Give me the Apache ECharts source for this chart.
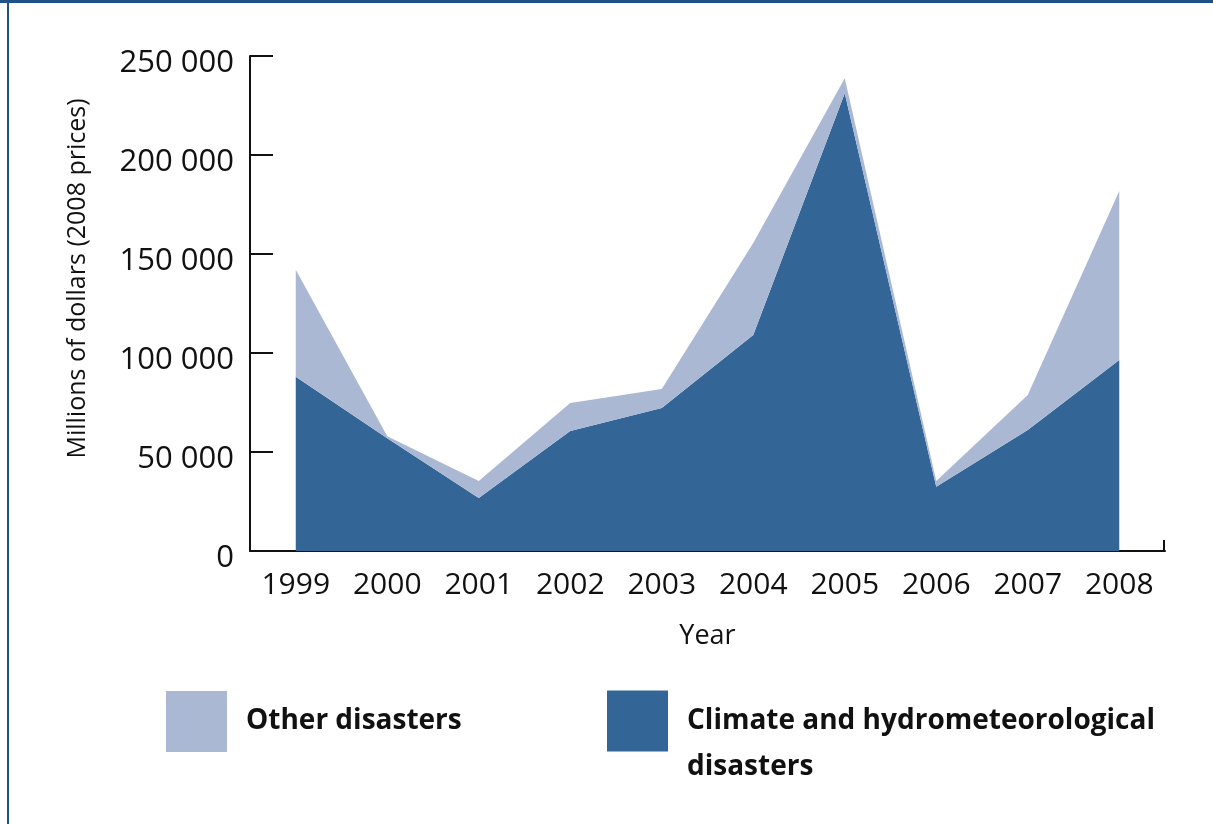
<!DOCTYPE html>
<html>
<head>
<meta charset="utf-8">
<script src="https://cdn.jsdelivr.net/npm/echarts@6/dist/echarts.min.js"></script>
<style>
html,body{margin:0;padding:0;background:#fff;}
#chart{width:1213px;height:824px;}
</style>
</head>
<body>
<div id="chart"></div>
<script>
const years = ['1999','2000','2001','2002','2003','2004','2005','2006','2007','2008'];
const climateHydro = [88000, 57000, 26800, 60600, 72200, 109100, 231200, 32500, 61100, 96500];
const otherDisasters = [54000, 1000, 8600, 14100, 9600, 46400, 7500, 2900, 17700, 85300];
const seriesNames = ['Climate and hydrometeorological disasters', 'Other disasters'];
const yTicks = [0, 50000, 100000, 150000, 200000, 250000];

const DARK = '#336596';
const LIGHT = '#aab8d4';
const FONT = 'Open Sans';
// square legend swatch plus an invisible point that widens the icon box (gap before text)
const LEGEND_ICON = 'path://M0,0h61v61h-61z M74.99,60.99h0.01v0.01h-0.01z';

const chart = echarts.init(document.getElementById('chart'));
const fmt = v => String(v).replace(/\B(?=(\d{3})+(?!\d))/g, ' ');

chart.setOption({
  animation: false,
  textStyle: {fontFamily: FONT},
  grid: {left: 250, right: 48, top: 56, bottom: 273, containLabel: false},
  xAxis: {
    type: 'category',
    data: years,
    boundaryGap: true,
    name: 'Year',
    nameLocation: 'middle',
    nameGap: 72,
    nameTextStyle: {fontSize: 27, color: '#111', fontFamily: FONT},
    axisLine: {show: true, lineStyle: {color: '#111', width: 2}},
    axisTick: {show: false},
    axisLabel: {interval: 0, hideOverlap: false, fontSize: 30, color: '#111', margin: 19, fontFamily: FONT}
  },
  yAxis: {
    type: 'value',
    min: yTicks[0],
    max: yTicks[yTicks.length - 1],
    interval: 50000,
    name: 'Millions of dollars (2008 prices)',
    nameLocation: 'middle',
    nameRotate: 90,
    nameGap: 160,
    nameTextStyle: {fontSize: 25, color: '#111', fontFamily: FONT, padding: [0, 0, 0, 50]},
    axisLine: {show: true, lineStyle: {color: '#111', width: 2}},
    axisTick: {show: true, inside: true, length: 23, lineStyle: {color: '#111', width: 2}},
    splitLine: {show: false},
    axisLabel: {fontSize: 31, color: '#111', margin: 16, fontFamily: FONT, verticalAlign: 'top', lineHeight: 14, formatter: fmt}
  },
  legend: [
    {
      data: [seriesNames[1]],
      left: 161, top: 686,
      itemWidth: 75, itemHeight: 61,
      icon: LEGEND_ICON,
      textStyle: {fontSize: 28, fontWeight: 'bold', color: '#111', fontFamily: FONT}
    },
    {
      data: [seriesNames[0]],
      left: 602, top: 647,
      itemWidth: 75, itemHeight: 61,
      icon: LEGEND_ICON,
      formatter: () => '\nClimate and hydrometeorological\ndisasters',
      textStyle: {fontSize: 28, fontWeight: 'bold', color: '#111', fontFamily: FONT, lineHeight: 46}
    }
  ],
  graphic: [
    {type: 'rect', shape: {x: 0, y: 0, width: 1213, height: 3}, style: {fill: '#1f5189'}, silent: true},
    {type: 'rect', shape: {x: 7, y: 0, width: 2, height: 824}, style: {fill: '#1f5189'}, silent: true},
    {type: 'line', shape: {x1: 1164, y1: 540, x2: 1164, y2: 552}, style: {stroke: '#111', lineWidth: 2}, silent: true}
  ],
  series: [
    {
      name: seriesNames[0],
      type: 'line',
      stack: 'total',
      data: climateHydro,
      symbol: 'none',
      lineStyle: {width: 0},
      itemStyle: {color: DARK},
      areaStyle: {color: DARK, opacity: 1}
    },
    {
      name: seriesNames[1],
      type: 'line',
      stack: 'total',
      data: otherDisasters,
      symbol: 'none',
      lineStyle: {width: 0},
      itemStyle: {color: LIGHT},
      areaStyle: {color: LIGHT, opacity: 1}
    }
  ]
});
</script>
</body>
</html>
